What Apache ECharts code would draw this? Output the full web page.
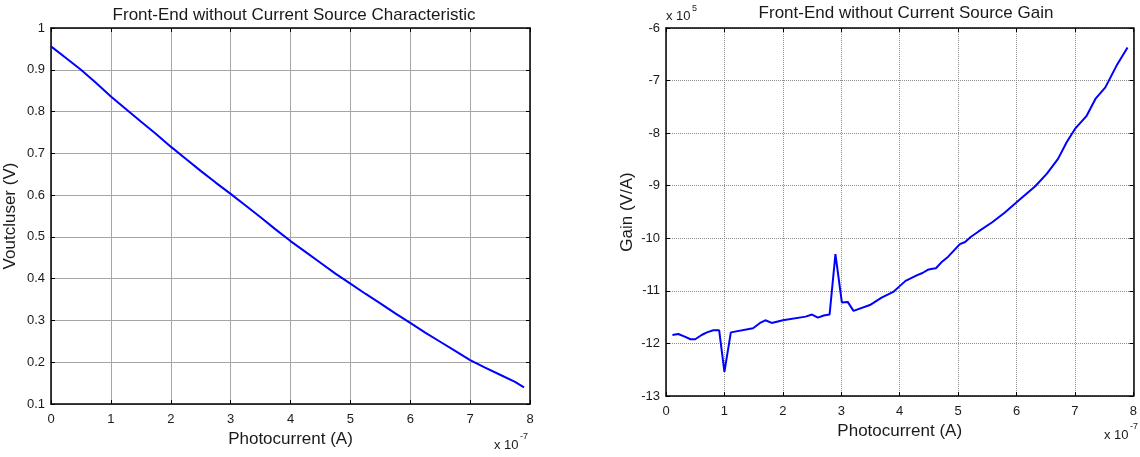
<!DOCTYPE html>
<html>
<head>
<meta charset="utf-8">
<script src="https://cdn.jsdelivr.net/npm/echarts@6/dist/echarts.min.js"></script>
<style>
html,body{margin:0;padding:0;background:#fff;}
#chart{width:1140px;height:457px;}
</style>
</head>
<body>
<div id="chart"></div>
<script>
// Left chart: Voutcluser (V) vs Photocurrent (x 1e-7 A)
const leftX = [0,0.25,0.5,0.75,1,1.25,1.5,1.75,2,2.25,2.5,2.75,3,3.25,3.5,3.75,4,4.25,4.5,4.75,5,5.25,5.5,5.75,6,6.25,6.5,6.75,7,7.25,7.5,7.75,7.9];
const leftY = [0.956,0.928,0.900,0.869,0.836,0.806,0.776,0.747,0.716,0.687,0.658,0.630,0.603,0.575,0.547,0.518,0.490,0.464,0.438,0.412,0.388,0.364,0.341,0.317,0.294,0.271,0.249,0.227,0.205,0.187,0.170,0.153,0.140];

// Right chart: Gain (x 1e5 V/A) vs Photocurrent (x 1e-7 A)
const rightX = [0.11,0.21,0.32,0.42,0.50,0.61,0.70,0.81,0.91,1.0,1.11,1.49,1.61,1.70,1.81,2.0,2.39,2.50,2.60,2.70,2.80,2.90,3.01,3.11,3.21,3.49,3.69,3.89,4.0,4.1,4.30,4.39,4.48,4.56,4.62,4.73,4.83,5.03,5.12,5.22,5.35,5.59,5.80,6.07,6.32,6.52,6.71,6.86,7.0,7.20,7.35,7.52,7.71,7.90];
const rightY = [-11.84,-11.82,-11.87,-11.92,-11.92,-11.84,-11.79,-11.75,-11.75,-12.54,-11.79,-11.71,-11.61,-11.56,-11.61,-11.56,-11.49,-11.45,-11.51,-11.47,-11.45,-10.30,-11.22,-11.21,-11.38,-11.27,-11.13,-11.02,-10.91,-10.81,-10.70,-10.66,-10.60,-10.58,-10.57,-10.44,-10.35,-10.11,-10.07,-9.97,-9.87,-9.69,-9.51,-9.25,-9.01,-8.77,-8.49,-8.17,-7.92,-7.67,-7.35,-7.13,-6.72,-6.37];

const titles = ['Front-End without Current Source Characteristic','Front-End without Current Source Gain'];
const xName = 'Photocurrent (A)';
const yNames = ['Voutcluser (V)','Gain (V/A)'];

const FONT = '"Liberation Sans", Arial, sans-serif';
const TXT = '#1a1a1a';

function axisBase(gridIndex, extra) {
  return Object.assign({
    gridIndex: gridIndex,
    type: 'value',
    axisLine: {show: true, onZero: false, lineStyle: {color: '#000', width: 1.5}},
    axisTick: {show: true, inside: true, length: 4, lineStyle: {color: '#000', width: 1}},
    splitLine: {show: false},
    axisLabel: {show: false}
  }, extra);
}

const gridLineLeft = {show: true, lineStyle: {color: '#a6a6a6', width: 1, type: 'solid'}};
const gridLineRight = {show: true, lineStyle: {color: '#8c8c8c', width: 1, type: [1, 1]}};
const xLabelStyle = {show: true, fontFamily: FONT, fontSize: 13, color: TXT, margin: 9};
const yLabelStyle = {show: true, fontFamily: FONT, fontSize: 13, color: TXT, margin: 6};
const nameStyle = {fontFamily: FONT, fontSize: 17, color: TXT};
const titleStyle = {fontFamily: FONT, fontSize: 17, fontWeight: 'normal', color: TXT};

const option = {
  backgroundColor: '#fff',
  animation: false,
  title: [
    {text: titles[0], left: 289, top: 2, textAlign: 'center', textStyle: titleStyle},
    {text: titles[1], left: 901, top: 0, textAlign: 'center', textStyle: titleStyle}
  ],
  grid: [
    {left: 51, top: 28, width: 479, height: 376},
    {left: 666, top: 28, width: 471, height: 368}
  ],
  xAxis: [
    axisBase(0, {min: 0, max: 8, interval: 1, position: 'bottom', splitLine: gridLineLeft, axisLabel: xLabelStyle,
      name: xName, nameLocation: 'middle', nameGap: 25, nameTextStyle: nameStyle}),
    axisBase(0, {min: 0, max: 8, interval: 1, position: 'top'}),
    axisBase(1, {min: 0, max: 8, interval: 1, position: 'bottom', splitLine: gridLineRight, axisLabel: xLabelStyle,
      name: xName, nameLocation: 'middle', nameGap: 25, nameTextStyle: nameStyle}),
    axisBase(1, {min: 0, max: 8, interval: 1, position: 'top'})
  ],
  yAxis: [
    axisBase(0, {min: 0.1, max: 1, interval: 0.1, position: 'left', splitLine: gridLineLeft,
      axisLabel: Object.assign({}, yLabelStyle, {formatter: v => String(+v.toFixed(1))}),
      name: yNames[0], nameLocation: 'middle', nameGap: 32, nameTextStyle: nameStyle}),
    axisBase(0, {min: 0.1, max: 1, interval: 0.1, position: 'right'}),
    axisBase(1, {min: -13, max: -6, interval: 1, position: 'left', splitLine: gridLineRight, axisLabel: yLabelStyle,
      name: yNames[1], nameLocation: 'middle', nameGap: 30, nameTextStyle: nameStyle}),
    axisBase(1, {min: -13, max: -6, interval: 1, position: 'right'})
  ],
  series: [
    {type: 'line', xAxisIndex: 0, yAxisIndex: 0, showSymbol: false, symbol: 'none',
      lineStyle: {color: '#0000ff', width: 2}, data: leftX.map((x, i) => [x, leftY[i]])},
    {type: 'line', xAxisIndex: 2, yAxisIndex: 2, showSymbol: false, symbol: 'none',
      lineStyle: {color: '#0000ff', width: 2}, data: rightX.map((x, i) => [x, rightY[i]])}
  ],
  graphic: [
    {type: 'text', left: 494, top: 439, style: {text: 'x 10', font: '13px ' + FONT, fill: TXT}},
    {type: 'text', left: 520, top: 432, style: {text: '-7', font: '9px ' + FONT, fill: TXT}},
    {type: 'text', left: 1104, top: 429, style: {text: 'x 10', font: '13px ' + FONT, fill: TXT}},
    {type: 'text', left: 1130, top: 422, style: {text: '-7', font: '9px ' + FONT, fill: TXT}},
    {type: 'text', left: 666, top: 10, style: {text: 'x 10', font: '13px ' + FONT, fill: TXT}},
    {type: 'text', left: 692, top: 4, style: {text: '5', font: '9px ' + FONT, fill: TXT}}
  ]
};

const chart = echarts.init(document.getElementById('chart'), null, {renderer: 'canvas'});
chart.setOption(option);
</script>
</body>
</html>
